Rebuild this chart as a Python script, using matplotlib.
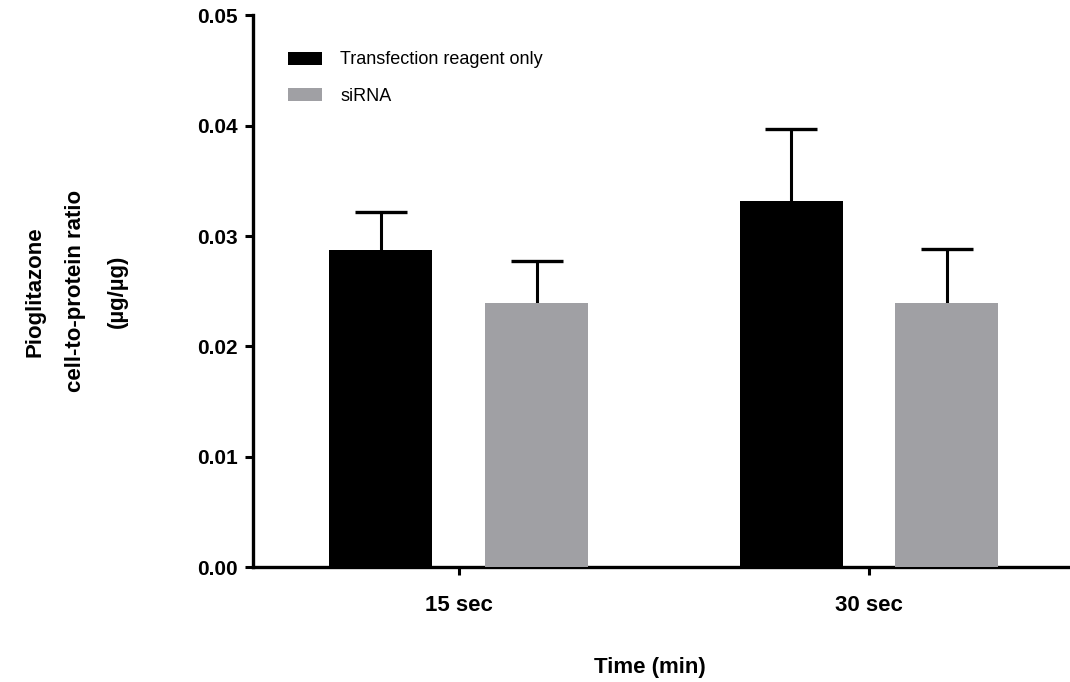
import matplotlib
matplotlib.use("Agg")
import matplotlib.pyplot as plt
import numpy as np

# Pioglitazone uptake, mean with upper SD
timepoints = ["15 sec", "30 sec"]
groups = ["Transfection reagent only", "siRNA"]
reagent_mean = [0.0287, 0.0332]
reagent_sd = [0.0035, 0.0065]
sirna_mean = [0.0239, 0.0239]
sirna_sd = [0.0038, 0.0049]
y_ticks = [0.00, 0.01, 0.02, 0.03, 0.04, 0.05]

colors = ["#000000", "#a0a0a4"]

plt.rcParams["font.family"] = ["Liberation Sans", "DejaVu Sans"]
plt.rcParams["font.weight"] = "bold"

fig = plt.figure(figsize=(10.7, 6.82), dpi=100)
ax = fig.add_axes([0.2364, 0.1686, 0.7636, 0.8087])

x = np.arange(len(timepoints))
offset = 0.19
width = 0.251

for i, (means, sds) in enumerate([(reagent_mean, reagent_sd), (sirna_mean, sirna_sd)]):
    pos = x + (2 * i - 1) * offset
    ax.bar(pos, means, width=width, color=colors[i], label=groups[i], zorder=3)
    lower = np.zeros(len(means))
    eb = ax.errorbar(pos, means, yerr=[lower, sds], fmt="none", ecolor="black",
                     elinewidth=2.2, capsize=18.5, capthick=2.4, zorder=2)
    eb[1][0].set_visible(False)  # only the upper cap

ax.set_xlim(-0.502, 1.49)
ax.set_ylim(0, 0.05)
ax.set_xticks(x)
ax.set_xticklabels(timepoints, fontsize=16, fontweight="bold")
ax.set_yticks(y_ticks)
ax.set_yticklabels([f"{t:.2f}" for t in y_ticks], fontsize=15, fontweight="bold")

for side in ["top", "right"]:
    ax.spines[side].set_visible(False)
for side in ["left", "bottom"]:
    ax.spines[side].set_linewidth(2.4)
ax.tick_params(axis="both", width=2.2, length=6, color="black")
ax.tick_params(axis="x", pad=14)
ax.tick_params(axis="y", pad=5)

ax.set_xlabel("Time (min)", fontsize=16, fontweight="bold", labelpad=30)
ax.xaxis.label.set_x(0.486)
ax.set_ylabel("Pioglitazone\ncell-to-protein ratio\n(µg/µg)", fontsize=16,
              fontweight="bold", labelpad=50, linespacing=2.25)

ax.legend(loc="upper left", bbox_to_anchor=(0.034, 0.948), borderaxespad=0,
          frameon=False, handlelength=1.9, handleheight=0.72, handletextpad=1.0,
          labelspacing=1.1, prop={"weight": "normal", "size": 13})

fig.savefig("out.png", dpi=100)
